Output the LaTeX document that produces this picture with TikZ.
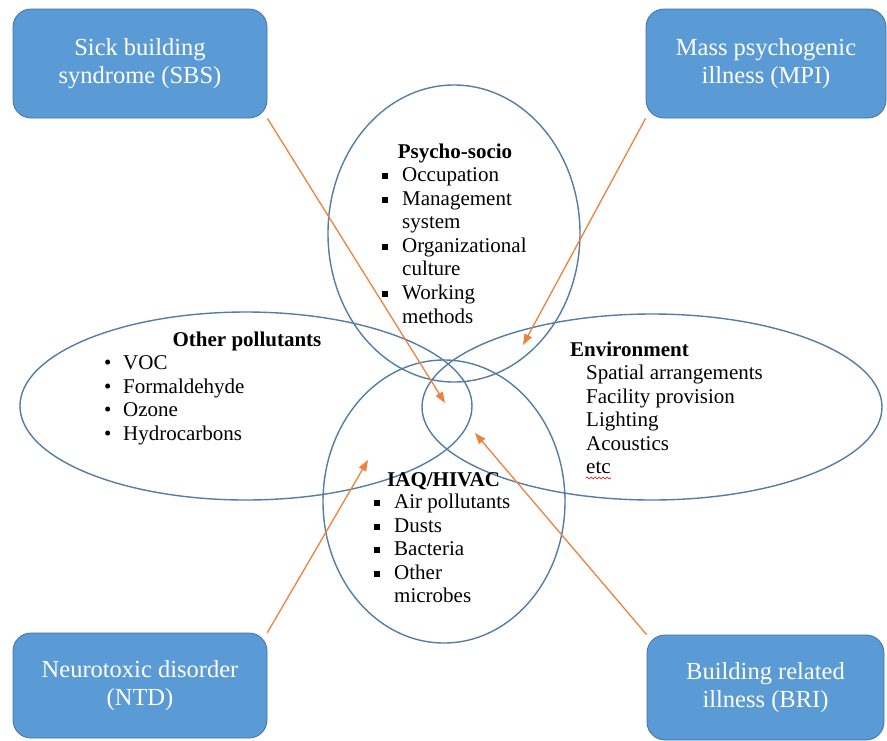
\documentclass[tikz,border=0pt]{standalone}
\usepackage{fontspec}
\setmainfont{Liberation Serif}
\usetikzlibrary{shapes.geometric,arrows.meta,decorations.pathmorphing}

\definecolor{boxblue}{RGB}{91,155,213}
\definecolor{boxedge}{RGB}{65,113,156}
\definecolor{ringblue}{RGB}{84,125,165}
\definecolor{arrorange}{RGB}{237,130,60}

\newcommand{\sqb}{\makebox[20pt][l]{\rule[2.5pt]{6pt}{6pt}}}
\newcommand{\rdb}{\makebox[19pt][l]{\textbullet}}

\begin{document}
\begin{tikzpicture}[x=1pt, y=-1pt,
  every node/.style = {inner sep=0pt},
  illness/.style = {shape=rectangle, rounded corners=18pt, draw=boxedge,
    fill=boxblue, line width=0.8pt, text=white, align=center,
    font=\fontsize{24.5}{28.5}\selectfont},
  ring/.style = {ellipse, draw=ringblue, line width=1.4pt},
  head/.style = {font=\fontsize{21}{23.6}\selectfont\bfseries, anchor=base},
  items/.style = {font=\fontsize{21}{23.6}\selectfont, anchor=base west},
  cause/.style = {draw=arrorange, line width=1.3pt,
    -{Triangle[length=11pt,width=8pt]}}]
  \useasboundingbox (0,0) rectangle (887,740);

  \node[illness, minimum width=254pt, minimum height=109pt] (sbs) at (140,63.5)
    {Sick building\\ syndrome (SBS)};
  \node[illness, minimum width=240pt, minimum height=109pt] (mpi) at (766,63.5)
    {Mass psychogenic\\ illness (MPI)};
  \node[illness, minimum width=254pt, minimum height=105pt] (ntd) at (140,685.5)
    {Neurotoxic disorder\\ (NTD)};
  \node[illness, minimum width=237pt, minimum height=105pt] (bri) at (765.5,687.5)
    {Building related\\ illness (BRI)};

  \node[ring, minimum width=252pt, minimum height=297pt] (psyring) at (454,233.5) {};
  \node[ring, minimum width=452pt, minimum height=188pt] (polring) at (246,406) {};
  \node[ring, minimum width=460pt, minimum height=186pt] (envring) at (652,407) {};
  \node[ring, minimum width=242pt, minimum height=283pt] (iaqring) at (444,501.5) {};

  \node[head] (psyhead) at (455,158.5) {Psycho-socio};
  \node[items] (psylist) at (382,181.5) {\begin{tabular}[t]{@{}l@{}l@{}}
    \sqb & Occupation\\ \sqb & Management\\ & system\\
    \sqb & Organizational\\ & culture\\ \sqb & Working\\ & methods
  \end{tabular}};

  \node[head] (polhead) at (247,346.5) {Other pollutants};
  \node[items] (pollist) at (104,369.5) {\begin{tabular}[t]{@{}l@{}l@{}}
    \rdb & VOC\\ \rdb & Formaldehyde\\ \rdb & Ozone\\ \rdb & Hydrocarbons
  \end{tabular}};

  \node[head, anchor=base west] (envhead) at (570,356.5) {Environment};
  \node[items] (envlist) at (586,379.5) {\begin{tabular}[t]{@{}l@{}}
    Spatial arrangements\\ Facility provision\\ Lighting\\ Acoustics\\ etc
  \end{tabular}};
  \draw[red!85!black, line width=0.6pt, decorate,
    decoration={snake, amplitude=1pt, segment length=4pt}] (586,478) -- (611,478);

  \node[head, anchor=base west] (iaqhead) at (387,486.5) {IAQ/HIVAC};
  \node[items] (iaqlist) at (374,508.5) {\begin{tabular}[t]{@{}l@{}l@{}}
    \sqb & Air pollutants\\ \sqb & Dusts\\ \sqb & Bacteria\\
    \sqb & Other\\ & microbes
  \end{tabular}};

  \coordinate (sbstip) at (445,403);
  \coordinate (mpitip) at (523,345);
  \coordinate (ntdtip) at (368,460);
  \coordinate (britip) at (475,433);
  \draw[cause] (sbs.south east) -- (sbstip);
  \draw[cause] (mpi.south west) -- (mpitip);
  \draw[cause] (ntd.north east) -- (ntdtip);
  \draw[cause] (bri.north west) -- (britip);
\end{tikzpicture}
\end{document}
